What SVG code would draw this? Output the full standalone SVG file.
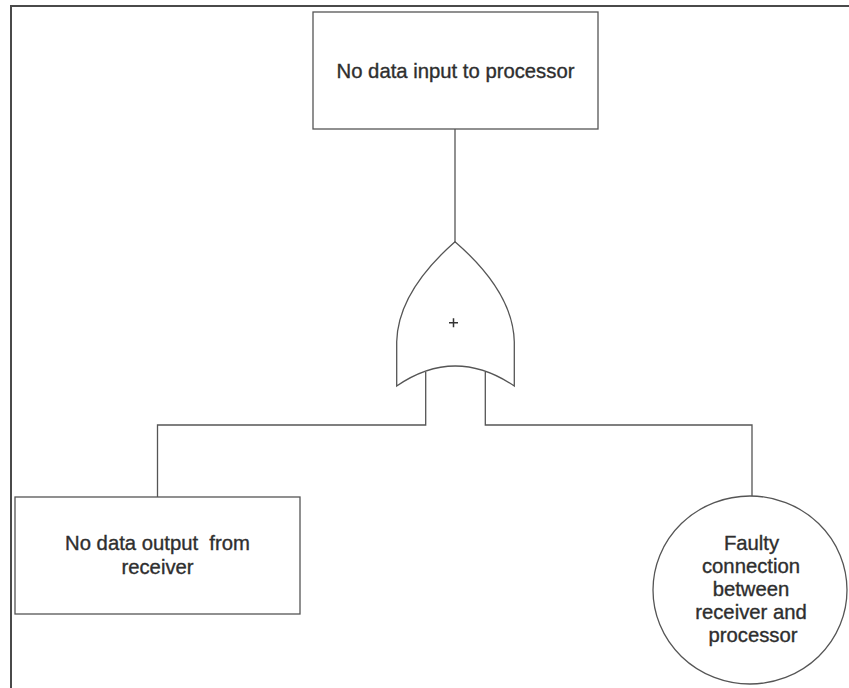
<svg xmlns="http://www.w3.org/2000/svg" width="849" height="688" viewBox="0 0 849 688">
  <style>
    .frame { fill: none; stroke: #4a4a4a; stroke-width: 2; }
    .shape { fill: #ffffff; stroke: #555555; stroke-width: 1.3; }
    .wire { fill: none; stroke: #555555; stroke-width: 1.3; }
    .label { font-family: "Liberation Sans", Arial, sans-serif; font-size: 20.3px; fill: #2e2e2e; stroke: #2e2e2e; stroke-width: 0.35; text-anchor: middle; }
    .sign { fill: none; stroke: #333333; stroke-width: 1.5; }
  </style>
  <rect width="849" height="688" fill="#ffffff"/>

  <!-- page frame: top and left rules only -->
  <path class="frame" d="M11,688 V6 H849"/>

  <!-- connectors -->
  <g id="connectors">
    <path class="wire" d="M455,129 V242"/>
    <path class="wire" d="M425.7,372 V425 H157.5 V497"/>
    <path class="wire" d="M485.3,372 V425 H752 V496"/>
  </g>

  <!-- top event -->
  <g id="top-event">
    <rect class="shape" x="313" y="12" width="285" height="117"/>
    <text class="label" x="455.5" y="77.5">No data input to processor</text>
  </g>

  <!-- OR gate -->
  <g id="or-gate">
    <path class="shape" d="M455,241.7 Q398,292 396.7,341.7 V386 Q455,346 514.3,386 V341.7 Q513,292 455,241.7 Z"/>
    <path class="sign" d="M449,322.7 H458 M453.5,318.2 V327.2"/>
  </g>

  <!-- intermediate event -->
  <g id="receiver-event">
    <rect class="shape" x="15" y="497" width="285" height="117"/>
    <text class="label" x="157.5" y="550" xml:space="preserve">No data output  from</text>
    <text class="label" x="157.5" y="574">receiver</text>
  </g>

  <!-- basic event -->
  <g id="connection-event">
    <ellipse class="shape" cx="750" cy="590" rx="97" ry="94"/>
    <text class="label" x="751.5" y="550">Faulty</text>
    <text class="label" x="751" y="573">connection</text>
    <text class="label" x="751" y="596">between</text>
    <text class="label" x="751" y="619">receiver and</text>
    <text class="label" x="753" y="642">processor</text>
  </g>
</svg>
